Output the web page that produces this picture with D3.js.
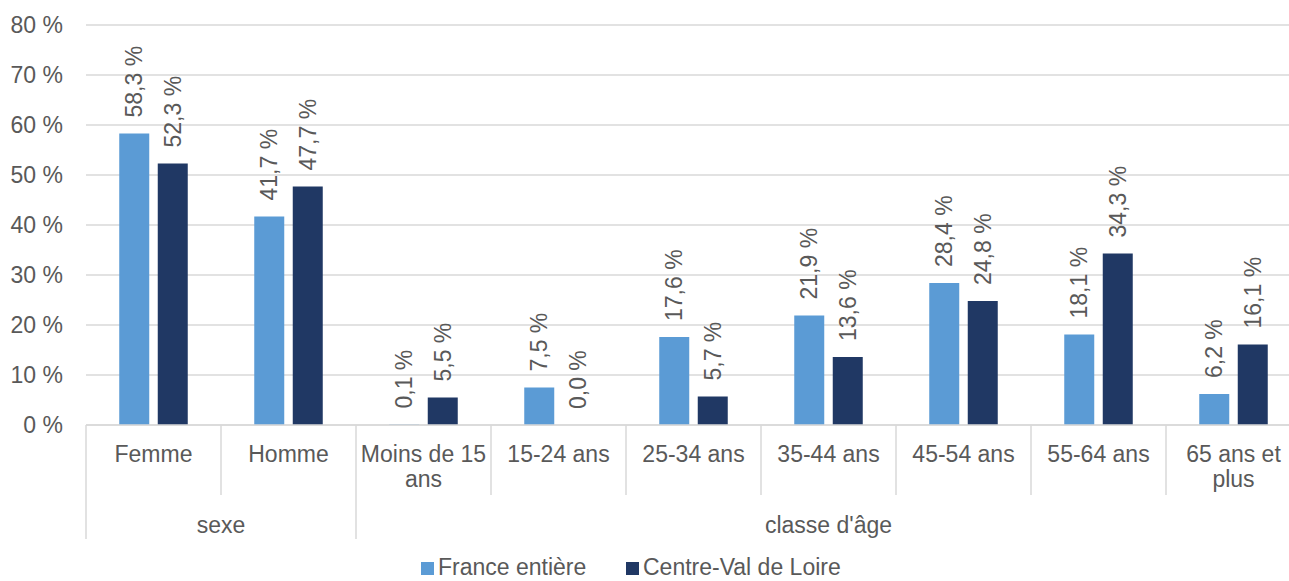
<!DOCTYPE html>
<html>
<head>
<meta charset="utf-8">
<script src="https://cdn.jsdelivr.net/npm/d3@7"></script>
<style>
  body { margin: 0; background: #fff; }
  text { font-family: "Liberation Sans", Arial, sans-serif; fill: #595959; }
</style>
</head>
<body>
<div id="viz"></div>
<script>
"use strict";

var categories = ["Femme", "Homme", "Moins de 15 ans", "15-24 ans", "25-34 ans", "35-44 ans", "45-54 ans", "55-64 ans", "65 ans et plus"];
var groups = [
  { name: "sexe", from: 0, to: 1 },
  { name: "classe d'âge", from: 2, to: 8 }
];
var seriesNames = ["France entière", "Centre-Val de Loire"];
var franceValues = [58.3, 41.7, 0.1, 7.5, 17.6, 21.9, 28.4, 18.1, 6.2];
var centreValues = [52.3, 47.7, 5.5, 0.0, 5.7, 13.6, 24.8, 34.3, 16.1];
var yTicks = [0, 10, 20, 30, 40, 50, 60, 70, 80];

var colors = ["#5B9BD5", "#203864"];
var w = 1289;
var h = 581;
var fontSize = 23;

var svg = d3.select("#viz")
  .append("svg")
  .attr("width", w)
  .attr("height", h);

var x = d3.scaleBand()
  .domain(categories)
  .range([86, 1301])
  .paddingInner(0)
  .paddingOuter(0);

var y = d3.scaleLinear()
  .domain([0, 80])
  .range([425, 25]);

var fmt = function(v) { return v.toFixed(1).replace(".", ",") + " %"; };

// gridlines
svg.append("g")
  .selectAll("line")
  .data(yTicks).enter()
  .append("line")
  .attr("x1", 86)
  .attr("x2", w)
  .attr("y1", function(d) { return y(d); })
  .attr("y2", function(d) { return y(d); })
  .attr("stroke", "#d9d9d9")
  .attr("stroke-width", 1.5);

// y tick labels
svg.append("g")
  .selectAll("text")
  .data(yTicks).enter()
  .append("text")
  .attr("x", 63)
  .attr("y", function(d) { return y(d); })
  .attr("dy", "0.35em")
  .attr("text-anchor", "end")
  .style("font-size", fontSize + "px")
  .text(function(d) { return d + " %"; });

// bars
var barW = 30;
var gap = 8.5;
var series = [franceValues, centreValues];

series.forEach(function(vals, si) {
  var g = svg.append("g");
  var offset = x.bandwidth() / 2 - barW - gap / 2 + si * (barW + gap);

  g.selectAll("rect")
    .data(vals).enter()
    .append("rect")
    .attr("x", function(d, i) { return x(categories[i]) + offset; })
    .attr("y", function(d) { return y(d); })
    .attr("width", barW)
    .attr("height", function(d) { return Math.max(y(0) - y(d), 0); })
    .attr("fill", colors[si]);

  g.selectAll("text")
    .data(vals).enter()
    .append("text")
    .attr("transform", function(d, i) {
      var cx = x(categories[i]) + offset + barW / 2;
      var cy = y(d) - 16;
      return "translate(" + cx + "," + cy + ") rotate(-90)";
    })
    .attr("dy", "0.35em")
    .style("font-size", fontSize + "px")
    .text(fmt);
});

// x axis line
svg.append("line")
  .attr("x1", 86).attr("x2", w)
  .attr("y1", y(0)).attr("y2", y(0))
  .attr("stroke", "#d9d9d9")
  .attr("stroke-width", 1.5);

// category separators
var groupEdges = {};
groups.forEach(function(gr) { groupEdges[gr.from] = true; });

svg.append("g")
  .selectAll("line")
  .data(categories).enter()
  .append("line")
  .attr("x1", function(d) { return x(d); })
  .attr("x2", function(d) { return x(d); })
  .attr("y1", y(0))
  .attr("y2", function(d, i) { return groupEdges[i] ? 539 : 495; })
  .attr("stroke", "#d9d9d9")
  .attr("stroke-width", 1.5);

// category labels, wrapped
function wrap(textSel, width) {
  textSel.each(function() {
    var text = d3.select(this);
    var words = text.text().split(/\s+/);
    var xPos = text.attr("x");
    text.text(null);
    var line = [];
    var tspan = text.append("tspan").attr("x", xPos).attr("dy", 0);
    words.forEach(function(word) {
      line.push(word);
      tspan.text(line.join(" "));
      if (tspan.node().getComputedTextLength() > width && line.length > 1) {
        line.pop();
        tspan.text(line.join(" "));
        line = [word];
        tspan = text.append("tspan").attr("x", xPos).attr("dy", "25px").text(word);
      }
    });
  });
}

svg.append("g")
  .selectAll("text")
  .data(categories).enter()
  .append("text")
  .attr("x", function(d) { return x(d) + x.bandwidth() / 2; })
  .attr("y", 462)
  .attr("text-anchor", "middle")
  .style("font-size", fontSize + "px")
  .text(function(d) { return d; })
  .call(wrap, x.bandwidth() - 4);

// group labels
svg.append("g")
  .selectAll("text")
  .data(groups).enter()
  .append("text")
  .attr("x", function(d) {
    var x0 = x(categories[d.from]);
    var x1 = x(categories[d.to]) + x.bandwidth();
    return (x0 + x1) / 2;
  })
  .attr("y", 533)
  .attr("text-anchor", "middle")
  .style("font-size", fontSize + "px")
  .text(function(d) { return d.name; });

// legend
var legendX = [421, 626];
var legend = svg.append("g")
  .selectAll("g")
  .data(seriesNames).enter()
  .append("g")
  .attr("transform", function(d, i) { return "translate(" + legendX[i] + ",562)"; });

legend.append("rect")
  .attr("width", 13)
  .attr("height", 13)
  .attr("fill", function(d, i) { return colors[i]; });

legend.append("text")
  .attr("x", 17)
  .attr("y", 13)
  .style("font-size", fontSize + "px")
  .text(function(d) { return d; });
</script>
</body>
</html>
